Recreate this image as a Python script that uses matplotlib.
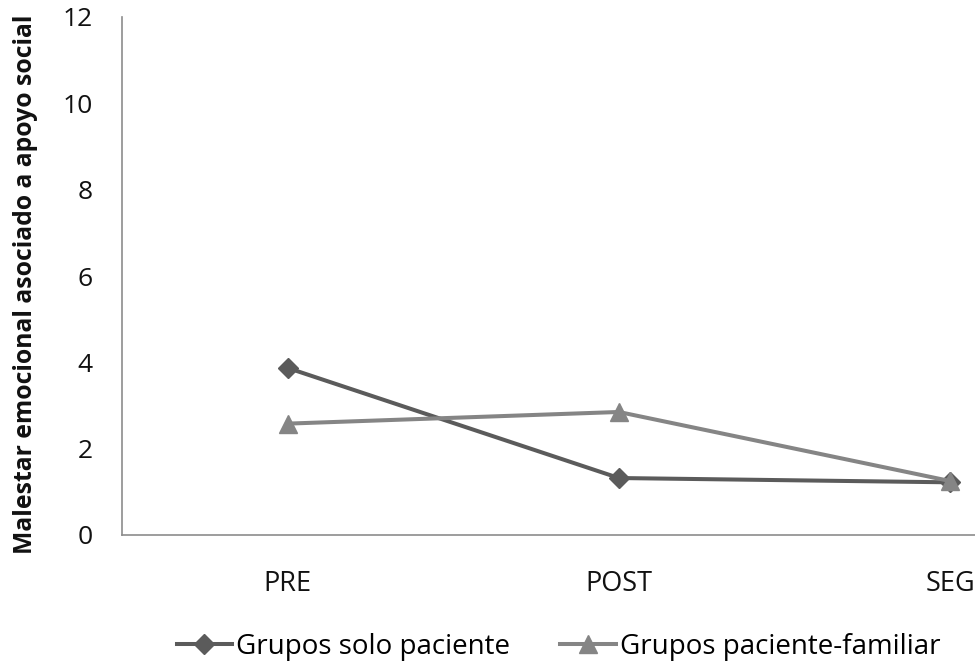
import matplotlib
matplotlib.use("Agg")
import matplotlib.pyplot as plt

# Data
categories = ["PRE", "POST", "SEG"]
solo_paciente = [3.87, 1.32, 1.22]
paciente_familiar = [2.58, 2.85, 1.25]
y_ticks = [0, 2, 4, 6, 8, 10, 12]

COLOR_SOLO = "#5b5b5b"
COLOR_FAM = "#858585"
COLOR_AXIS = "#8c8c8c"

plt.rcParams["font.family"] = ["Open Sans", "DejaVu Sans"]

fig = plt.figure(figsize=(9.75, 6.65), dpi=100)
ax = fig.add_axes([122 / 975, 1 - 535 / 665, 1 - 122 / 975, (535 - 17) / 665])

x = list(range(len(categories)))
ax.plot(x, solo_paciente, color=COLOR_SOLO, lw=2.9, marker="D", ms=10,
        label="Grupos solo paciente")
ax.plot(x, paciente_familiar, color=COLOR_FAM, lw=2.9, marker="^", ms=13,
        label="Grupos paciente-familiar")

ax.set_xlim(-0.5, 2.075)
ax.set_ylim(0, 12)
ax.set_yticks(y_ticks)
ax.set_xticks(x)
ax.set_xticklabels(categories, fontsize=19.5, color="#111111")
ax.tick_params(axis="y", labelsize=19, length=0, pad=21, colors="#111111")
ax.tick_params(axis="x", length=0, pad=25)

for side in ["top", "right"]:
    ax.spines[side].set_visible(False)
for side in ["left", "bottom"]:
    ax.spines[side].set_color(COLOR_AXIS)
    ax.spines[side].set_linewidth(1.2)

ax.set_ylabel("Malestar emocional asociado a apoyo social", fontsize=17.8,
              fontweight="bold", color="#111111")
ax.yaxis.set_label_coords(-0.0985, 0.485)

fig.legend(loc="center", bbox_to_anchor=(0.573, 0.027), ncol=2, frameon=False,
           fontsize=20, handlelength=2.0, handletextpad=0.15, columnspacing=1.8)

fig.savefig("out.png", dpi=100)
